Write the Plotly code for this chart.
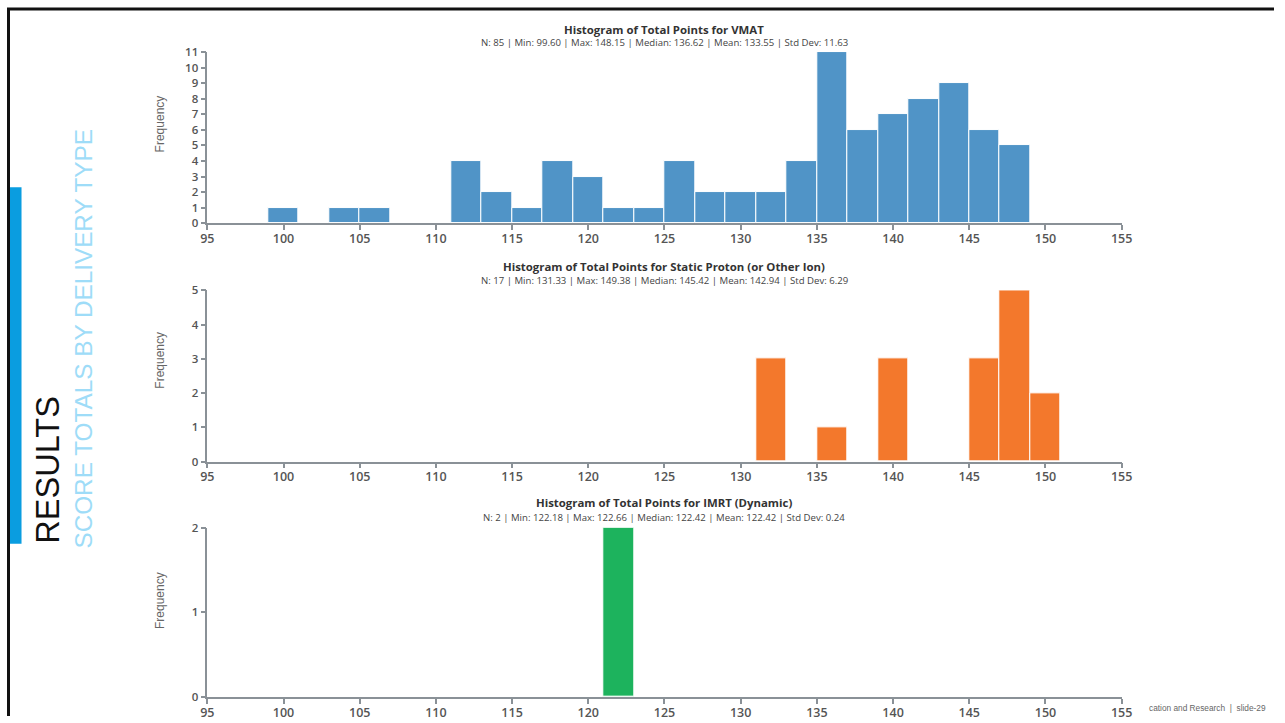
import plotly.graph_objects as go

W, H = 1285, 723

# ---------------- data ----------------
bin_width = 2
vmat_bin_starts = [99, 101, 103, 105, 107, 109, 111, 113, 115, 117, 119, 121, 123,
                   125, 127, 129, 131, 133, 135, 137, 139, 141, 143, 145, 147]
vmat_counts = [1, 0, 1, 1, 0, 0, 4, 2, 1, 4, 3, 1, 1,
               4, 2, 2, 2, 4, 11, 6, 7, 8, 9, 6, 5]

proton_bin_starts = [131, 133, 135, 137, 139, 141, 143, 145, 147, 149]
proton_counts = [3, 0, 1, 0, 3, 0, 0, 3, 5, 2]

imrt_bin_starts = [121]
imrt_counts = [2]

titles = [
    "Histogram of Total Points for VMAT",
    "Histogram of Total Points for Static Proton (or Other Ion)",
    "Histogram of Total Points for IMRT (Dynamic)",
]
subtitles = [
    "N: 85 | Min: 99.60 | Max: 148.15 | Median: 136.62 | Mean: 133.55 | Std Dev: 11.63",
    "N: 17 | Min: 131.33 | Max: 149.38 | Median: 145.42 | Mean: 142.94 | Std Dev: 6.29",
    "N: 2 | Min: 122.18 | Max: 122.66 | Median: 122.42 | Mean: 122.42 | Std Dev: 0.24",
]
colors = ["#5094c7", "#f3782c", "#1db35d"]
y_max = [11, 5, 2]
x_range = [95, 155]
x_ticks = [95, 100, 105, 110, 115, 120, 125, 130, 135, 140, 145, 150, 155]

# ---------------- layout helpers (reference pixels -> paper) ----------------
SX, SY, PAD = 0.9845, 0.978, 8.0


def px(x):
    return ((x - PAD) / SX) / W


def py(y):
    return 1 - ((y - PAD) / SY) / H


plot_left, plot_right = 208, 1121
panel_px = [(52, 223), (290, 461), (527, 696)]  # (top, bottom) pixel rows
title_y = [29, 266, 502]
sub_y = [42, 280, 517]
freq_y = [124, 360, 600]

AX_COLOR = "#8a9197"
TXT = "#555555"
FONT = "Open Sans"

fig = go.Figure()
series = [(vmat_bin_starts, vmat_counts), (proton_bin_starts, proton_counts),
          (imrt_bin_starts, imrt_counts)]

layout = dict(
    width=W, height=H,
    margin=dict(l=0, r=0, t=0, b=0),
    paper_bgcolor="white", plot_bgcolor="white",
    showlegend=False,
    bargap=0,
)

annotations = []
for i, (starts, counts) in enumerate(series):
    n = "" if i == 0 else str(i + 1)
    centers = [s + bin_width / 2 for s in starts]
    fig.add_trace(go.Bar(
        x=centers, y=counts, width=[bin_width] * len(centers),
        marker=dict(color=colors[i], line=dict(color="white", width=1)),
        xaxis="x" + n, yaxis="y" + n,
    ))
    top, bot = panel_px[i]
    layout["xaxis" + n] = dict(
        domain=[px(plot_left), px(plot_right)], anchor="y" + n,
        range=x_range, tickvals=x_ticks, ticks="outside", ticklen=5,
        tickcolor=AX_COLOR, tickwidth=1.5, showline=True, linecolor=AX_COLOR,
        linewidth=1.5, showgrid=False, zeroline=False,
        ticklabelstandoff=-2,
        tickfont=dict(family=FONT, size=12.5, color=TXT, weight=600),
    )
    layout["yaxis" + n] = dict(
        domain=[py(bot), py(top)], anchor="x" + n,
        range=[0, y_max[i]], dtick=1, ticks="outside", ticklen=5,
        tickcolor=AX_COLOR, tickwidth=1.5, showline=True, linecolor=AX_COLOR,
        linewidth=1.5, showgrid=False, zeroline=False,
        tickfont=dict(family=FONT, size=11.5, color=TXT, weight=600),
    )
    mid = px((plot_left + plot_right) / 2)
    annotations.append(dict(
        text=titles[i], x=mid, y=py(title_y[i]), xref="paper", yref="paper",
        showarrow=False, xanchor="center", yanchor="middle",
        font=dict(family=FONT, size=11.4, color="#333333", weight=700),
    ))
    annotations.append(dict(
        text=subtitles[i], x=mid, y=py(sub_y[i]), xref="paper", yref="paper",
        showarrow=False, xanchor="center", yanchor="middle",
        font=dict(family=FONT, size=9.6, color="#444444"),
    ))
    annotations.append(dict(
        text="Frequency", x=px(161), y=py(freq_y[i]), xref="paper", yref="paper",
        showarrow=False, xanchor="center", yanchor="middle", textangle=-90,
        font=dict(family="Liberation Sans", size=12, color="#666666"),
    ))

# slide decorations
annotations.append(dict(
    text="RESULTS", x=px(49), y=py(469), xref="paper", yref="paper",
    showarrow=False, xanchor="center", yanchor="middle", textangle=-90,
    font=dict(family="Liberation Sans", size=32.5, color="#111111"),
))
annotations.append(dict(
    text="SCORE TOTALS BY DELIVERY TYPE", x=px(84), y=py(338), xref="paper",
    yref="paper", showarrow=False, xanchor="center", yanchor="middle",
    textangle=-90,
    font=dict(family="Liberation Sans", size=24.3, color="#9edcf8"),
))
annotations.append(dict(
    text="cation and Research  |  slide-29", x=px(1146), y=py(707),
    xref="paper", yref="paper", showarrow=False, xanchor="left",
    yanchor="middle", font=dict(family="Liberation Sans", size=8.3, color="#666666"),
))

shapes = [
    dict(type="rect", xref="paper", yref="paper", x0=px(11), x1=px(22.5),
         y0=py(543), y1=py(187), fillcolor="#0a9de0", line=dict(width=0)),
    dict(type="line", xref="paper", yref="paper", x0=px(8), x1=1,
         y0=1 - 1.0 / H, y1=1 - 1.0 / H, line=dict(color="#111111", width=3)),
    dict(type="line", xref="paper", yref="paper", x0=px(9.5), x1=px(9.5),
         y0=0, y1=1, line=dict(color="#111111", width=3)),
]

layout["annotations"] = annotations
layout["shapes"] = shapes
fig.update_layout(**layout)
fig.write_html(
    "out.html",
    config={"displayModeBar": False},
    post_script="document.body.style.margin='0';document.body.style.overflow='hidden';",
)
